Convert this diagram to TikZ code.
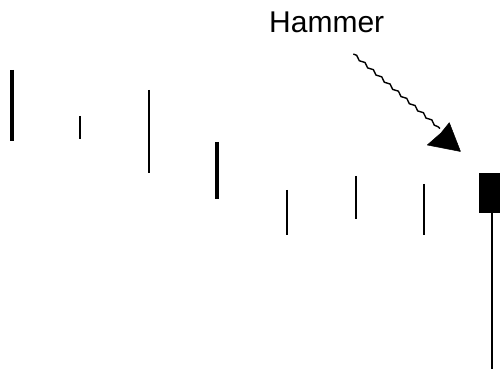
\documentclass[tikz,border=0pt]{standalone}
\usepackage{fontspec}
\setmainfont{Liberation Sans}
\usetikzlibrary{decorations.pathmorphing}
\begin{document}
\begin{tikzpicture}[x=1pt,y=-1pt,
  thick wick/.style={line width=4pt},
  mid wick/.style={line width=2.5pt},
  thin wick/.style={line width=2pt},
  wavy/.style={line width=1.4pt,decorate,decoration={snake,segment length=11pt,amplitude=1.2pt}},
  headfill/.style={fill=black,draw=black,line width=0.5pt,line join=round}]
\useasboundingbox (0,0) rectangle (500,371);
% label
\node[anchor=base west,inner sep=0pt,font=\fontsize{30}{36}\selectfont] (lbl) at (269,33) {Hammer};
% candles
\coordinate (c1t) at (12.3,70);  \coordinate (c1b) at (12.3,141.5);
\coordinate (c2t) at (80,116);   \coordinate (c2b) at (80,139);
\coordinate (c3t) at (149,90);   \coordinate (c3b) at (149,173);
\coordinate (c4t) at (216.7,142);\coordinate (c4b) at (216.7,199);
\coordinate (c5t) at (286.7,190);\coordinate (c5b) at (286.7,235);
\coordinate (c6t) at (356,176);  \coordinate (c6b) at (356,219);
\coordinate (c7t) at (424.3,184);\coordinate (c7b) at (424.3,235.5);
\draw[thick wick] (c1t) -- (c1b);
\draw[mid wick] (c2t) -- (c2b);
\draw[thin wick] (c3t) -- (c3b);
\draw[thick wick] (c4t) -- (c4b);
\draw[thin wick] (c5t) -- (c5b);
\draw[thin wick] (c6t) -- (c6b);
\draw[thin wick] (c7t) -- (c7b);
% hammer candle
\node[draw=black,fill=black,minimum width=22pt,minimum height=38.5pt,inner sep=0pt,anchor=north west] (body) at (478.7,173.3) {};
\coordinate (tail) at (491.7,369);
\draw[thin wick] (body.south -| tail) -- (tail);
% arrow
\coordinate (as) at (353.3,54);
\coordinate (ae) at (440,128.5);
\coordinate (h1) at (449.3,122.7);
\coordinate (h2) at (427.3,145);
\coordinate (tip) at (460.5,151.5);
\draw[wavy] (as) -- (ae);
\filldraw[headfill] (tip) -- (h1) -- (441,133) -- (h2) -- cycle;
\end{tikzpicture}
\end{document}
